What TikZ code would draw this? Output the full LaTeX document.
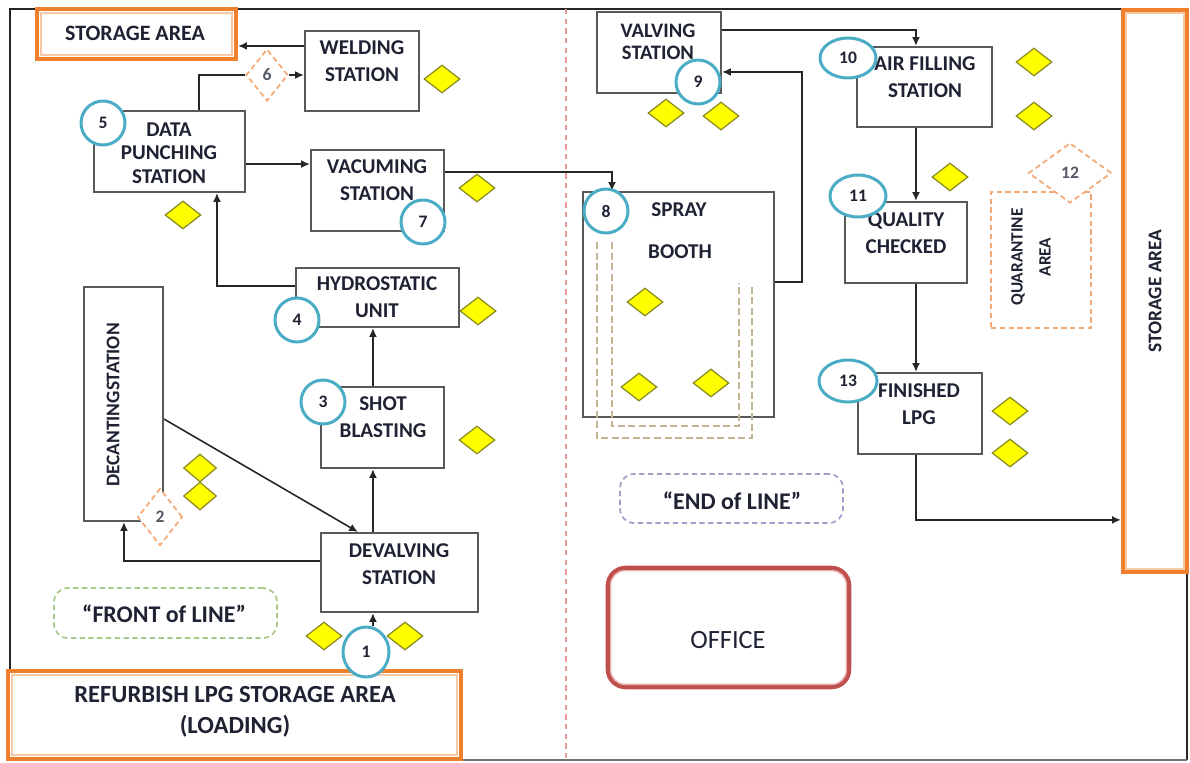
\documentclass[tikz,border=0pt]{standalone}
\usepackage{fontspec}
\setmainfont{Carlito}
\usetikzlibrary{shapes.geometric,arrows.meta,calc,fit}
\definecolor{boxc}{HTML}{595959}
\definecolor{txtc}{HTML}{1E2233}
\definecolor{orc}{HTML}{F07F2E}
\definecolor{orin}{HTML}{F8C9A6}
\definecolor{ordash}{HTML}{F4A977}
\definecolor{tealc}{HTML}{4BACC6}
\definecolor{diac}{HTML}{8A8A20}
\definecolor{ylw}{HTML}{FFFF00}
\definecolor{taupe}{HTML}{C2B393}
\definecolor{grdash}{HTML}{A9C98A}
\definecolor{pudash}{HTML}{A99CCB}
\definecolor{offred}{HTML}{C0504D}
\definecolor{offin}{HTML}{E8B4B3}
\definecolor{reddash}{HTML}{E79A9A}
\begin{document}
\begin{tikzpicture}[x=0.02cm,y=-0.02cm,
  box/.style={draw=boxc, line width=1.2pt, fill=white, inner sep=0pt},
  orbox/.style={draw=orc, line width=2.4pt, fill=white, inner sep=0pt},
  txt/.style={font=\bfseries\fontsize{12}{15}\selectfont, text=txtc, align=center, inner sep=0pt},
  ydia/.style={diamond, draw=diac, line width=0.7pt, fill=ylw, inner sep=0pt, minimum width=0.72cm, minimum height=0.56cm},
  num/.style={ellipse, draw=tealc, line width=1.7pt, fill=white, inner sep=0pt, minimum width=0.88cm, minimum height=0.88cm, font=\bfseries\fontsize{10}{12}\selectfont, text=txtc},
  odia/.style={diamond, draw=ordash, dash pattern=on 3pt off 2pt, line width=1pt, fill=white, inner sep=0pt, font=\bfseries\fontsize{10}{12}\selectfont, text=txtc!75},
  ln/.style={draw=black!85, line width=0.9pt},
  arr/.style={draw=black!85, line width=0.9pt, -{Latex[length=5pt,width=4.5pt]}},
  spd/.style={draw=taupe, line width=1.2pt, dash pattern=on 4pt off 2pt}
]
\useasboundingbox (0,0) rectangle (1190,762);
% frame and divider
\draw[black!85, line width=1.6pt] (1187,760) -- (1187,9) -- (10,9) -- (10,760);
\draw[black!55, line width=0.8pt] (10,760) -- (1187,760);
\draw[reddash, line width=1pt, dash pattern=on 3pt off 2.5pt] (566,9) -- (566,760);

% storage areas
\node[orbox, fit={(37,9) (236,59)}] (store) {};
\draw[orin, line width=0.8pt] ($(store.north west)+(6,6)$) rectangle ($(store.south east)+(-6,-6)$);
\node[txt, font=\bfseries\fontsize{12.5}{15}\selectfont] (storet) at (135,33) {STORAGE AREA};

\node[orbox, fit={(1123,10) (1187,572)}] (rs) {};
\draw[orin, line width=0.8pt] ($(rs.north west)+(5,5)$) rectangle ($(rs.south east)+(-5,-5)$);
\node[txt, rotate=90, font=\bfseries\fontsize{11}{13}\selectfont] (rst) at (1155,291) {STORAGE AREA};

\node[orbox, fit={(8,671) (461,759)}] (ref) {};
\draw[orin, line width=0.8pt] ($(ref.north west)+(6,6)$) rectangle ($(ref.south east)+(-6,-6)$);
\node[txt, font=\bfseries\fontsize{14}{17.6}\selectfont] (reft) at (235,712) {REFURBISH LPG STORAGE AREA\\(LOADING)};

% process boxes
\node[box, fit={(305,31) (419,111)}] (weld) {};
\node[txt] (weldt) at (362,61) {WELDING\\STATION};
\node[box, fit={(94,111) (245,192)}] (dp) {};
\node[txt, font=\bfseries\fontsize{12}{13.4}\selectfont] (dpt) at (169,153) {DATA\\PUNCHING\\STATION};
\node[box, fit={(311,150) (444,231)}] (vac) {};
\node[txt] (vact) at (377,180) {VACUMING\\STATION};
\node[box, fit={(296,268) (459,327)}] (hyd) {};
\node[txt] (hydt) at (377,297) {HYDROSTATIC\\UNIT};
\node[box, fit={(321,387) (444,468)}] (shot) {};
\node[txt] (shott) at (383,417) {SHOT\\BLASTING};
\node[box, fit={(321,533) (478,612)}] (dev) {};
\node[txt] (devt) at (399,564) {DEVALVING\\STATION};
\node[box, fit={(84,287) (163,521)}] (dec) {};
\node[txt, rotate=90, font=\bfseries\fontsize{11}{13}\selectfont] (dect) at (113,405) {DECANTINGSTATION};
\node[box, fit={(597,12) (721,93)}] (valv) {};
\node[txt, font=\bfseries\fontsize{11.7}{12.6}\selectfont] (valvt) at (658,42) {VALVING\\STATION};
\node[box, fit={(857,47) (992,127)}] (air) {};
\node[txt] (airt) at (925,77) {AIR FILLING\\STATION};
\node[box, fit={(583,192) (774,417)}] (spray) {};
\node[txt] (sprayt) at (679,210) {SPRAY};
\node[txt] (boott) at (680,252) {BOOTH};
\node[box, fit={(845,202) (967,283)}] (qc) {};
\node[txt] (qct) at (906,233) {QUALITY\\CHECKED};
\node[box, fit={(858,373) (982,454)}] (fin) {};
\node[txt] (fint) at (919,404) {FINISHED\\LPG};

% spray booth dashed lines
\draw[spd] (597,242) -- (597,438) -- (752,438) -- (752,283);
\draw[spd] (612,242) -- (612,426) -- (739,426) -- (739,283);

% quarantine
\node[draw=ordash, dash pattern=on 3pt off 2pt, line width=1pt, inner sep=0pt, fit={(991,192) (1091,328)}] (quar) {};
\node[txt, rotate=90, font=\bfseries\fontsize{9.8}{16}\selectfont] (quart) at (1031,257) {QUARANTINE\\AREA};

% line labels
\node[draw=grdash, dash pattern=on 3pt off 2pt, line width=1pt, rounded corners=8pt, inner sep=0pt, fit={(54,588) (277,638)}] (front) {};
\node[txt, font=\bfseries\fontsize{13.6}{16}\selectfont] (frontt) at (164,614) {“FRONT of LINE”};
\node[draw=pudash, dash pattern=on 3pt off 2pt, line width=1pt, rounded corners=8pt, inner sep=0pt, fit={(620,474) (843,523)}] (endl) {};
\node[txt, font=\bfseries\fontsize{13.6}{16}\selectfont] (endt) at (732,501) {“END of LINE”};

% office
\node[draw=offred, line width=2.6pt, rounded corners=10pt, inner sep=0pt, fit={(608,568) (849,687)}] (office) {};
\draw[offin, line width=0.8pt, rounded corners=8pt] ($(office.north west)+(5,5)$) rectangle ($(office.south east)+(-5,-5)$);
\node[txt, font=\fontsize{15}{18}\selectfont] (officet) at (728,640) {OFFICE};

% orange dashed diamonds
\node[odia, minimum width=0.84cm, minimum height=1.04cm] (d6) at (267,75) {6};
\node[odia, minimum width=0.9cm, minimum height=1.14cm] (d2) at (160,517) {2};
\node[odia, minimum width=1.66cm, minimum height=1.2cm] (d12) at (1070,173) {12};

% connectors
\coordinate (w1) at ($(weld.north west)+(0,16)$);
\draw[arr] (w1) -- (w1 -| store.east);
\coordinate (dpn) at ($(dp.north west)+(106,0)$);
\draw[ln] (dpn) |- (d6.west);
\draw[arr] (d6.east) -- (d6.east -| weld.west);
\coordinate (dpe) at ($(dp.south east)+(0,-29)$);
\draw[arr] (dpe) -- (dpe -| vac.west);
\coordinate (v1) at ($(vac.north east)+(0,23)$);
\coordinate (s1) at ($(spray.north west)+(30,0)$);
\draw[arr] (v1) -| (s1);
\coordinate (h1) at ($(hyd.north west)+(0,19)$);
\coordinate (dpb) at ($(dp.south west)+(124,0)$);
\draw[arr] (h1) -| (dpb);
\coordinate (sb1) at ($(shot.north west)+(53,0)$);
\draw[arr] (sb1) -- (sb1 |- hyd.south);
\coordinate (dv1) at ($(dev.north west)+(53,0)$);
\draw[arr] (dv1) -- (dv1 |- shot.south);
\coordinate (de1) at ($(dec.south east)+(0,-103)$);
\coordinate (dv3) at ($(dev.north west)+(38,0)$);
\draw[arr] (de1) -- (dv3);
\coordinate (dv4) at ($(dev.north west)+(0,29)$);
\coordinate (deb) at ($(dec.south west)+(41,0)$);
\draw[arr] (dv4) -| (deb);
\coordinate (va1) at ($(valv.north east)+(0,19)$);
\coordinate (ai1) at ($(air.north west)+(60,0)$);
\draw[arr] (va1) -| (ai1);
\coordinate (sp1) at ($(spray.north east)+(0,91)$);
\coordinate (vr) at ($(valv.north east)+(0,61)$);
\draw[arr] (sp1) -- ++(27,0) |- (vr);
\coordinate (ai2) at ($(air.south west)+(60,0)$);
\draw[arr] (ai2) -- (ai2 |- qc.north);
\coordinate (qc1) at ($(qc.south west)+(72,0)$);
\draw[arr] (qc1) -- (qc1 |- fin.north);
\coordinate (fn1) at ($(fin.south west)+(59,0)$);
\coordinate (rs1) at ($(rs.north west)+(0,512)$);
\draw[arr] (fn1) |- (rs1);

% numbered circles
\node[num, minimum width=0.92cm, minimum height=1.0cm] (c1) at (366,652) {1};
\coordinate (dv2) at ($(dev.south west)+(53,0)$);
\draw[arr] (dv2 |- c1.north) -- (dv2);
\node[num] (c3) at (323,402) {3};
\node[num] (c4) at (297,320) {4};
\node[num] (c5) at (103,123) {5};
\node[num] (c7) at (423,222) {7};
\node[num] (c8) at (606,211) {8};
\node[num] (c9) at (698,82) {9};
\node[num, minimum width=1.12cm, minimum height=0.8cm] (c10) at (848,58) {10};
\node[num, minimum width=1.12cm, minimum height=0.84cm] (c11) at (858,196) {11};
\node[num, minimum width=1.16cm, minimum height=0.84cm] (c13) at (848,381) {13};

% yellow diamonds
\node[ydia] (y1) at (442,79) {};
\node[ydia] (y2) at (477,188) {};
\node[ydia] (y3) at (183,215) {};
\node[ydia] (y4) at (478,311) {};
\node[ydia] (y5) at (477,440) {};
\node[ydia, minimum width=0.66cm] (y6) at (200,468) {};
\node[ydia, minimum width=0.66cm] (y7) at (200,496) {};
\node[ydia] (y8) at (324,636) {};
\node[ydia] (y9) at (405,636) {};
\node[ydia] (y10) at (666,113) {};
\node[ydia] (y11) at (721,116) {};
\node[ydia] (y12) at (1034,62) {};
\node[ydia] (y13) at (1034,116) {};
\node[ydia] (y14) at (950,177) {};
\node[ydia] (y15) at (645,302) {};
\node[ydia] (y16) at (639,387) {};
\node[ydia] (y17) at (711,383) {};
\node[ydia] (y18) at (1010,411) {};
\node[ydia] (y19) at (1010,453) {};
\end{tikzpicture}
\end{document}
